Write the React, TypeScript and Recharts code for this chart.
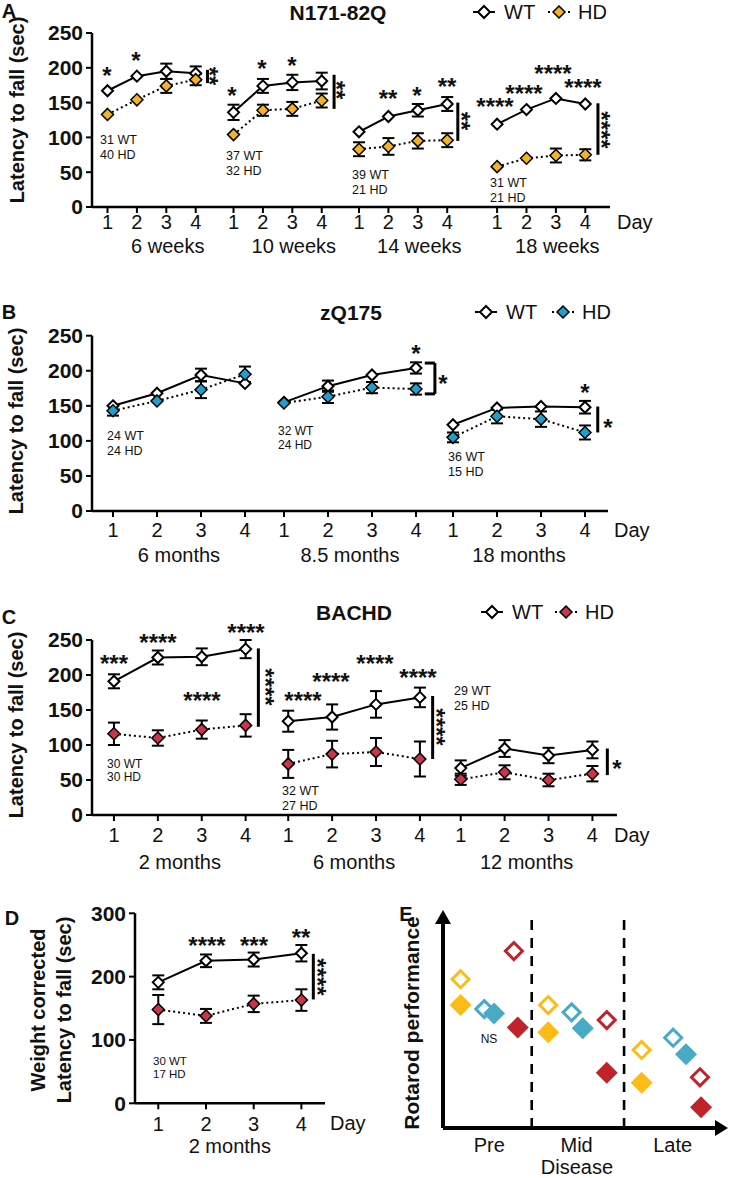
import React from 'react';
import {
  LineChart,
  Line,
  XAxis,
  YAxis,
  ErrorBar,
  ReferenceLine,
  ReferenceDot,
  ScatterChart,
  Scatter,
} from 'recharts';

const FONT = 'Arial, "Liberation Sans", Helvetica, sans-serif';

const days = [1, 2, 3, 4];

// A - N171-82Q
const aAges = ['6 weeks', '10 weeks', '14 weeks', '18 weeks'];
const aWt = [[167, 188, 195, 192], [136, 174, 179, 181], [108, 130, 139, 148], [119, 140, 156, 148]];
const aWtErr = [[0, 0, 11, 10], [11, 10, 11, 12], [0, 0, 9, 10], [0, 0, 0, 0]];
const aHd = [[133, 154, 174, 183], [104, 139, 141, 153], [83, 87, 95, 96], [58, 70, 74, 75]];
const aHdErr = [[0, 0, 10, 8], [0, 8, 10, 10], [10, 12, 11, 10], [0, 0, 10, 8]];

// B - zQ175
const bAges = ['6 months', '8.5 months', '18 months'];
const bWt = [[150, 168, 194, 182], [155, 178, 194, 204], [123, 147, 149, 148]];
const bWtErr = [[0, 0, 9, 0], [0, 8, 0, 8], [0, 0, 0, 9]];
const bHd = [[143, 157, 173, 195], [154, 163, 176, 174], [105, 135, 131, 112]];
const bHdErr = [[7, 0, 12, 11], [0, 9, 8, 8], [7, 10, 11, 10]];

// C - BACHD
const cAges = ['2 months', '6 months', '12 months'];
const cWt = [[191, 225, 226, 237], [134, 140, 158, 168], [67, 95, 85, 93]];
const cWtErr = [[10, 10, 12, 13], [15, 18, 19, 14], [11, 12, 11, 12]];
const cHd = [[116, 110, 122, 128], [73, 87, 90, 80], [51, 61, 50, 59]];
const cHdErr = [[16, 11, 13, 16], [20, 19, 20, 25], [8, 10, 9, 11]];

// D - weight corrected BACHD
const dAges = ['2 months'];
const dWt = [[191, 225, 227, 237]];
const dWtErr = [[11, 10, 11, 13]];
const dHd = [[148, 138, 157, 163]];
const dHdErr = [[23, 11, 13, 17]];

// E - schematic
const eStages = ['Pre', 'Mid', 'Late'];
const eN171Wt = [[0.63, 6.92], [3.77, 5.72], [7.12, 3.63]];
const eN171Hd = [[0.63, 5.72], [3.77, 4.45], [7.12, 2.11]];
const eZq175Wt = [[1.48, 5.53], [4.61, 5.38], [8.25, 4.2]];
const eZq175Hd = [[1.83, 5.33], [5.01, 4.64], [8.71, 3.43]];
const eBachdWt = [[2.54, 8.23], [5.87, 5.02], [9.21, 2.36]];
const eBachdHd = [[2.68, 4.67], [5.87, 2.57], [9.25, 0.96]];

const YELLOW = '#F4B323';
const BLUE = '#1F9FCB';
const RED = '#CB3546';
const E_YELLOW = '#FDBB16';
const E_BLUE = '#47ABC6';
const E_RED = '#C1232B';
const INK = '#111';

const diamondPath = (cx: number, cy: number, r: number) =>
  `M${cx},${cy - r}L${cx + r},${cy}L${cx},${cy + r}L${cx - r},${cy}Z`;

const diamond = (fill: string, sw: number, r: number) => (props: any) => {
  const { cx, cy, index } = props;
  if (cx == null || cy == null) return <g key={`d${index}`} />;
  return <path key={`d${index}`} d={diamondPath(cx, cy, r)} fill={fill} stroke="#000" strokeWidth={sw} />;
};

interface Bar {
  x: number;
  y1: number;
  y2: number;
  cap?: number;
}

interface PanelProps {
  top: number;
  height: number;
  width?: number;
  plot: { l: number; r: number; t: number; b: number };
  dom: [number, number];
  starts: number[];
  shift?: number;
  ages: string[];
  wt: number[][];
  wtErr: number[][];
  hd: number[][];
  hdErr: number[][];
  hdColor: string;
  yMax: number;
  yTicks: number[];
  tickGap: number;
  grpGap: number;
  bars: Bar[];
}

const near = (arr: number[], v: number) => arr.findIndex((a) => Math.abs(a - v) < 1e-6);

function DayPanel(p: PanelProps) {
  const width = p.width ?? 729;
  const AX = 54;
  const xs = p.starts.flatMap((s) => days.map((d) => s + d - 1));
  const unit = (p.plot.r - p.plot.l) / (p.dom[1] - p.dom[0]);

  // day number, plus the age label under each group (drawn with day 2)
  const dayTick = (tp: any) => {
    const { x, y, payload } = tp;
    const i = near(xs, payload.value);
    const d = days[i % 4];
    const g = Math.floor(i / 4);
    return (
      <g>
        <text x={x} y={y} dy="0.71em" textAnchor="middle" fontSize={20} fontFamily={FONT} fill={INK}>
          {d}
        </text>
        {d === 2 && (
          <text
            x={x + unit * (0.5 + (p.shift ?? 0))}
            y={y + p.grpGap - p.tickGap}
            dy="0.71em"
            textAnchor="middle"
            fontSize={20}
            fontFamily={FONT}
            fill={INK}
          >
            {p.ages[g]}
          </text>
        )}
      </g>
    );
  };

  const series = p.starts.flatMap((s, g) => {
    const wtRows = days.map((d, i) => ({ x: s + d - 1, y: p.wt[g][i], e: p.wtErr[g][i] }));
    const hdRows = days.map((d, i) => ({ x: s + d - 1, y: p.hd[g][i], e: p.hdErr[g][i] }));
    return [
      <Line
        key={`w${g}`}
        data={wtRows}
        dataKey="y"
        type="linear"
        stroke="#000"
        strokeWidth={2}
        dot={diamond('#fff', 2, 5.5)}
        activeDot={false}
        isAnimationActive={false}
      >
        <ErrorBar dataKey="e" width={6} stroke="#000" strokeWidth={2} direction="y" />
      </Line>,
      <Line
        key={`h${g}`}
        data={hdRows}
        dataKey="y"
        type="linear"
        stroke="#000"
        strokeWidth={2}
        strokeDasharray="2 3"
        dot={diamond(p.hdColor, 1.5, 6)}
        activeDot={false}
        isAnimationActive={false}
      >
        <ErrorBar dataKey="e" width={6} stroke="#000" strokeWidth={2} direction="y" />
      </Line>,
    ];
  });

  const refs = p.bars.flatMap((b, i) => {
    const out = [
      <ReferenceLine
        key={`b${i}`}
        segment={[{ x: b.x, y: b.y1 }, { x: b.x, y: b.y2 }]}
        stroke="#000"
        strokeWidth={3}
      />,
    ];
    if (b.cap != null) {
      out.push(
        <ReferenceLine key={`c1${i}`} segment={[{ x: b.cap, y: b.y1 }, { x: b.x, y: b.y1 }]} stroke="#000" strokeWidth={3} />,
        <ReferenceLine key={`c2${i}`} segment={[{ x: b.cap, y: b.y2 }, { x: b.x, y: b.y2 }]} stroke="#000" strokeWidth={3} />
      );
    }
    return out;
  });

  return (
    <div style={{ position: 'absolute', left: 0, top: p.top }}>
      <LineChart
        width={width}
        height={p.height}
        margin={{
          top: p.plot.t - p.top,
          right: width - p.plot.r,
          left: p.plot.l - 60,
          bottom: p.top + p.height - p.plot.b - AX,
        }}
      >
        <XAxis
          type="number"
          dataKey="x"
          domain={p.dom}
          ticks={xs}
          interval={0}
          allowDataOverflow
          height={AX}
          tickSize={6}
          tickMargin={p.tickGap - 6}
          axisLine={{ stroke: '#000', strokeWidth: 2.5 }}
          tickLine={{ stroke: '#000', strokeWidth: 2 }}
          tick={dayTick}
        />
        <YAxis
          type="number"
          domain={[0, p.yMax]}
          ticks={p.yTicks}
          interval={0}
          width={60}
          tickSize={6}
          tickMargin={3}
          axisLine={{ stroke: '#000', strokeWidth: 2.5 }}
          tickLine={{ stroke: '#000', strokeWidth: 2 }}
          tick={{ fill: INK, fontSize: 21, fontWeight: 700, fontFamily: FONT }}
        />
        {series}
        {refs}
      </LineChart>
    </div>
  );
}

const openShape = (color: string) => (props: any) => (
  <path d={diamondPath(props.cx, props.cy, 8.5)} fill="#fff" stroke={color} strokeWidth={3} />
);
const filledShape = (color: string) => (props: any) => (
  <path d={diamondPath(props.cx, props.cy, 11)} fill={color} />
);
const pts = (arr: number[][]) => arr.map(([x, y]) => ({ x, y }));

function PanelE() {
  const stageTicks = [1.66, 4.79, 8.23];
  const bounds = [3.18, 6.49];
  return (
    <div style={{ position: 'absolute', left: 380, top: 890 }}>
      <ScatterChart width={349} height={288} margin={{ top: 23, right: 7, left: 53, bottom: 0 }}>
        <XAxis
          type="number"
          dataKey="x"
          domain={[0, 10]}
          ticks={stageTicks}
          interval={0}
          height={50}
          tickSize={0}
          tickMargin={10}
          tickFormatter={(v) => eStages[near(stageTicks, v)] ?? ''}
          axisLine={{ stroke: '#000', strokeWidth: 4 }}
          tickLine={false}
          tick={{ fill: INK, fontSize: 20, fontFamily: FONT }}
        />
        <YAxis
          type="number"
          dataKey="y"
          domain={[0, 10]}
          width={10}
          tick={false}
          tickLine={false}
          axisLine={{ stroke: '#000', strokeWidth: 4 }}
        />
        {bounds.map((b) => (
          <ReferenceLine key={b} x={b} stroke="#000" strokeWidth={2.6} strokeDasharray="10 8" />
        ))}
        <ReferenceDot
          x={10}
          y={0}
          r={0}
          ifOverflow="visible"
          shape={(p: any) => (
            <path d={`M${p.cx - 7},${p.cy - 8}L${p.cx + 6},${p.cy}L${p.cx - 7},${p.cy + 8}Z`} fill="#000" />
          )}
        />
        <ReferenceDot
          x={0}
          y={10}
          r={0}
          ifOverflow="visible"
          shape={(p: any) => (
            <path d={`M${p.cx - 8},${p.cy + 11}L${p.cx},${p.cy - 3}L${p.cx + 8},${p.cy + 11}Z`} fill="#000" />
          )}
        />
        <Scatter data={pts(eN171Wt)} shape={openShape(E_YELLOW)} isAnimationActive={false} />
        <Scatter data={pts(eZq175Wt)} shape={openShape(E_BLUE)} isAnimationActive={false} />
        <Scatter data={pts(eBachdWt)} shape={openShape(E_RED)} isAnimationActive={false} />
        <Scatter data={pts(eN171Hd)} shape={filledShape(E_YELLOW)} isAnimationActive={false} />
        <Scatter data={pts(eZq175Hd)} shape={filledShape(E_BLUE)} isAnimationActive={false} />
        <Scatter data={pts(eBachdHd)} shape={filledShape(E_RED)} isAnimationActive={false} />
      </ScatterChart>
    </div>
  );
}

const STAR = 24;

function Stars({ t, x, y, rot }: { t: string; x: number; y: number; rot?: boolean }) {
  if (rot) {
    return (
      <text transform={`translate(${x},${y}) rotate(90)`} x={0} y={0.58 * STAR} textAnchor="middle" fontSize={STAR} fontWeight={700}>
        {t}
      </text>
    );
  }
  return (
    <text x={x} y={y + 0.58 * STAR} textAnchor="middle" fontSize={STAR} fontWeight={700}>
      {t}
    </text>
  );
}

function Count({ x, y, a, b, fs = 12.5, gap = 14.5 }: { x: number; y: number; a: string; b: string; fs?: number; gap?: number }) {
  return (
    <g fontSize={fs}>
      <text x={x} y={y} dominantBaseline="central">{a}</text>
      <text x={x} y={y + gap} dominantBaseline="central">{b}</text>
    </g>
  );
}

function LegendKey({ x, y, fill, dotted }: { x: number; y: number; fill: string; dotted?: boolean }) {
  return (
    <g>
      <line x1={x - 11} x2={x + 11} y1={y} y2={y} stroke="#000" strokeWidth={2} strokeDasharray={dotted ? '2 3' : undefined} />
      <path d={diamondPath(x, y, 6)} fill={fill} stroke="#000" strokeWidth={dotted ? 1.5 : 2} />
    </g>
  );
}

function Legend({ y, wx, hx, color }: { y: number; wx: number; hx: number; color: string }) {
  return (
    <g fontSize={20}>
      <LegendKey x={wx} y={y} fill="#fff" />
      <text x={wx + 20} y={y} dominantBaseline="central">WT</text>
      <LegendKey x={hx} y={y} fill={color} dotted />
      <text x={hx + 19} y={y} dominantBaseline="central">HD</text>
    </g>
  );
}

function Overlay() {
  const starsAt: [string, number, number, boolean?][] = [
    ['*', 107, 70], ['*', 136, 55], ['*', 232, 90], ['*', 262, 63], ['*', 292, 60],
    ['**', 388, 93], ['*', 417, 90], ['**', 447, 81],
    ['****', 495, 101], ['****', 524, 88], ['****', 553, 68], ['****', 583, 82],
    ['**', 215, 76, true], ['**', 342, 90, true], ['**', 467, 121, true], ['****', 607, 130, true],
    ['*', 416, 348], ['*', 443, 378], ['*', 585, 387], ['*', 608, 422],
    ['***', 114, 658], ['****', 158, 637], ['****', 246, 627], ['****', 202, 695],
    ['****', 303, 695], ['****', 331, 676], ['****', 375, 658], ['****', 418, 672],
    ['****', 271, 687, true], ['****', 442, 727, true], ['*', 617, 763],
    ['****', 207, 940], ['***', 254, 940], ['**', 301, 932], ['****', 323, 977, true],
  ];
  const yLabel = (x: number, y: number, t: string, fs = 20) => (
    <text transform={`translate(${x},${y}) rotate(-90)`} textAnchor="middle" dominantBaseline="central" fontSize={fs} fontWeight={700}>
      {t}
    </text>
  );
  return (
    <svg width={729} height={1178} style={{ position: 'absolute', left: 0, top: 0, pointerEvents: 'none' }} fontFamily={FONT} fill={INK}>
      <g fontSize={20} fontWeight={700}>
        <text x={9} y={11} textAnchor="middle" dominantBaseline="central">A</text>
        <text x={9} y={312} textAnchor="middle" dominantBaseline="central">B</text>
        <text x={9} y={617} textAnchor="middle" dominantBaseline="central">C</text>
        <text x={12} y={918} textAnchor="middle" dominantBaseline="central">D</text>
        <text x={406} y={914} textAnchor="middle" dominantBaseline="central">E</text>
      </g>
      <g fontSize={21} fontWeight={700} textAnchor="middle">
        <text x={338} y={12} dominantBaseline="central">N171-82Q</text>
        <text x={351} y={312} dominantBaseline="central">zQ175</text>
        <text x={354} y={612} dominantBaseline="central">BACHD</text>
      </g>
      <Legend y={12} wx={484} hx={559} color={YELLOW} />
      <Legend y={312} wx={486} hx={563} color={BLUE} />
      <Legend y={612} wx={492} hx={566} color={RED} />

      {yLabel(17, 110, 'Latency to fall (sec)')}
      {yLabel(16, 421, 'Latency to fall (sec)')}
      {yLabel(16, 725, 'Latency to fall (sec)')}
      {yLabel(38, 1010, 'Weight corrected')}
      {yLabel(64, 1010, 'Latency to fall (sec)')}
      {yLabel(411, 1023, 'Rotarod performance', 21)}

      <g fontSize={20}>
        <text x={617} y={222} dominantBaseline="central">Day</text>
        <text x={614} y={530} dominantBaseline="central">Day</text>
        <text x={614} y={835} dominantBaseline="central">Day</text>
        <text x={330} y={1123} dominantBaseline="central">Day</text>
        <text x={577} y={1167} textAnchor="middle" dominantBaseline="central">Disease</text>
      </g>
      <text x={489} y={1039} fontSize={12} textAnchor="middle" dominantBaseline="central" fill={INK}>NS</text>

      <Count x={100} y={140} a="31 WT" b="40 HD" />
      <Count x={226} y={156} a="37 WT" b="32 HD" />
      <Count x={352} y={175} a="39 WT" b="21 HD" />
      <Count x={490} y={183} a="31 WT" b="21 HD" />
      <Count x={107} y={436} a="24 WT" b="24 HD" />
      <Count x={278} y={431} a="32 WT" b="24 HD" fs={12} gap={13.5} />
      <Count x={448} y={457} a="36 WT" b="15 HD" />
      <Count x={107} y={764} a="30 WT" b="30 HD" fs={12} gap={13} />
      <Count x={282} y={791} a="32 WT" b="27 HD" />
      <Count x={454} y={691} a="29 WT" b="25 HD" />
      <Count x={153} y={1061} a="30 WT" b="17 HD" fs={11.5} gap={12.7} />

      {starsAt.map(([t, x, y, r], i) => (
        <Stars key={i} t={t} x={x} y={y} rot={r} />
      ))}
    </svg>
  );
}

export default function App() {
  return (
    <div style={{ position: 'relative', width: 729, height: 1178, background: '#fff', fontFamily: FONT }}>
      <style>{'body{margin:0}'}</style>
      <DayPanel
        top={0}
        height={270}
        plot={{ l: 92, r: 610, t: 33, b: 207 }}
        dom={[-0.527, 17.09]}
        starts={[0, 4.286, 8.554, 13.25]}
        shift={0.55}
        ages={aAges}
        wt={aWt}
        wtErr={aWtErr}
        hd={aHd}
        hdErr={aHdErr}
        hdColor={YELLOW}
        yMax={250}
        yTicks={[0, 50, 100, 150, 200, 250]}
        tickGap={8}
        grpGap={32}
        bars={[
          { x: 3.4, y1: 197, y2: 178 },
          { x: 4.286 + 3.42, y1: 190, y2: 141 },
          { x: 8.554 + 3.36, y1: 150, y2: 95 },
          { x: 13.25 + 3.43, y1: 149, y2: 75 },
        ]}
      />
      <DayPanel
        top={300}
        height={270}
        plot={{ l: 92, r: 608, t: 335.7, b: 511 }}
        dom={[-0.477, 11.25]}
        starts={[0, 3.886, 7.727]}
        ages={bAges}
        wt={bWt}
        wtErr={bWtErr}
        hd={bHd}
        hdErr={bHdErr}
        hdColor={BLUE}
        yMax={250}
        yTicks={[0, 50, 100, 150, 200, 250]}
        tickGap={12}
        grpGap={37}
        bars={[
          { x: 3.886 + 3.43, y1: 211, y2: 167, cap: 3.886 + 3.2 },
          { x: 7.727 + 3.29, y1: 149, y2: 112 },
        ]}
      />
      <DayPanel
        top={600}
        height={275}
        plot={{ l: 92, r: 617, t: 640, b: 815 }}
        dom={[-0.5, 11.46]}
        starts={[0, 3.97, 7.9]}
        ages={cAges}
        wt={cWt}
        wtErr={cWtErr}
        hd={cHd}
        hdErr={cHdErr}
        hdColor={RED}
        yMax={250}
        yTicks={[0, 50, 100, 150, 200, 250]}
        tickGap={13}
        grpGap={40}
        bars={[
          { x: 3.29, y1: 238, y2: 126 },
          { x: 3.97 + 3.29, y1: 170, y2: 80 },
          { x: 7.9 + 3.34, y1: 95, y2: 57 },
        ]}
      />
      <DayPanel
        top={890}
        height={275}
        width={380}
        plot={{ l: 135, r: 325, t: 913.3, b: 1103.3 }}
        dom={[-0.488, 3.495]}
        starts={[0]}
        ages={dAges}
        wt={dWt}
        wtErr={dWtErr}
        hd={dHd}
        hdErr={dHdErr}
        hdColor={RED}
        yMax={300}
        yTicks={[0, 100, 200, 300]}
        tickGap={13}
        grpGap={35}
        bars={[{ x: 3.25, y1: 236, y2: 164 }]}
      />
      <PanelE />
      <Overlay />
    </div>
  );
}
